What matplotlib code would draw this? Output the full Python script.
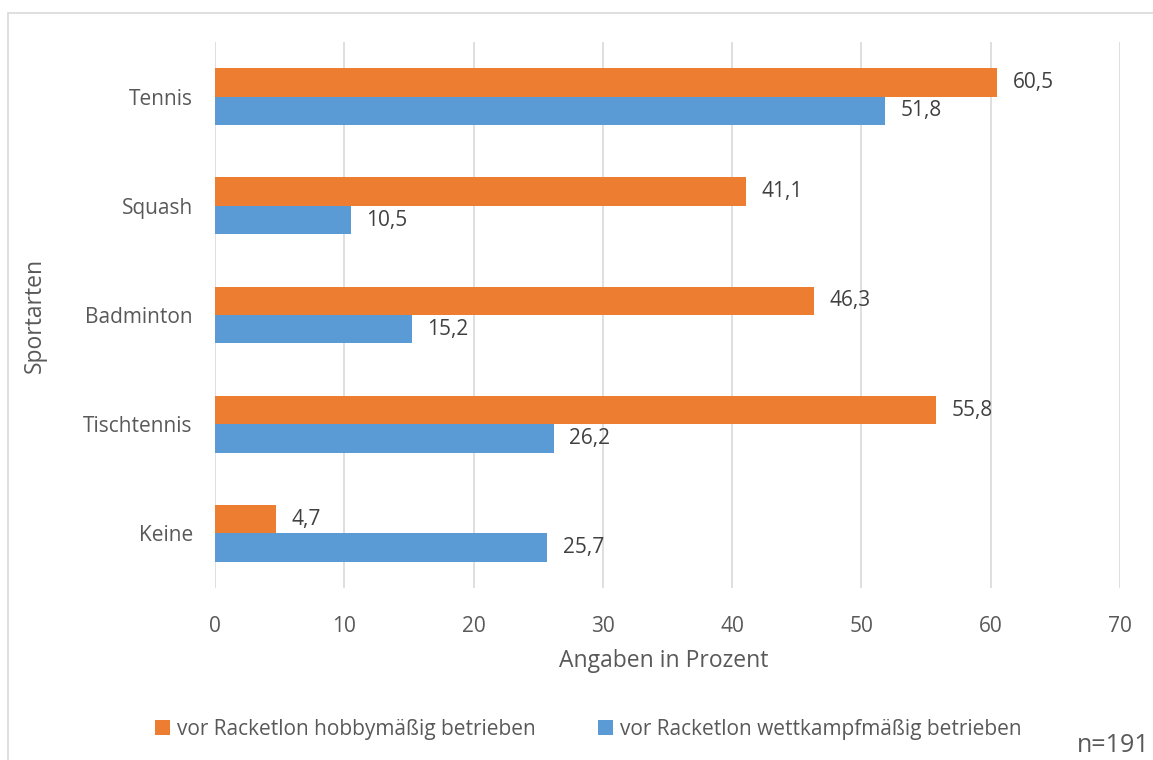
import numpy as np
import matplotlib.pyplot as plt
from matplotlib.patches import Rectangle

# --- Daten ---
sportarten = ['Tennis', 'Squash', 'Badminton', 'Tischtennis', 'Keine']
hobby = [60.5, 41.1, 46.3, 55.8, 4.7]
wettkampf = [51.8, 10.5, 15.2, 26.2, 25.7]
serien = ['vor Racketlon hobbymäßig betrieben', 'vor Racketlon wettkampfmäßig betrieben']
x_ticks = [0, 10, 20, 30, 40, 50, 60, 70]

orange = '#ED7D31'
blau = '#5B9BD5'
grau_text = '#595959'

plt.rcParams['font.family'] = ['Open Sans', 'DejaVu Sans']

fig = plt.figure(figsize=(11.53, 7.6), dpi=100)
ax = fig.add_axes([0.1865, 0.2263, 0.7849, 0.7184])

# Rahmen um das ganze Diagramm
fig.patches.append(Rectangle((8 / 1153, -0.1), 1.2, 1 - 13 / 760 + 0.1,
                             transform=fig.transFigure, fill=False,
                             edgecolor='#D9D9D9', linewidth=1.2))

pos = np.arange(len(sportarten))
h = 0.26
b1 = ax.barh(pos - h / 2, hobby, height=h, color=orange, label=serien[0], zorder=3)
b2 = ax.barh(pos + h / 2, wettkampf, height=h, color=blau, label=serien[1], zorder=3)

for bars, werte in ((b1, hobby), (b2, wettkampf)):
    for bar, w in zip(bars, werte):
        ax.text(w + 1.2, bar.get_y() + bar.get_height() / 2, f'{w:.1f}'.replace('.', ','),
                va='center', ha='left', fontsize=15, color='#404040')

ax.set_xlim(0, 70)
ax.set_ylim(4.5, -0.5)
ax.set_xticks(x_ticks)
ax.set_yticks(pos)
ax.set_yticklabels(sportarten)
ax.tick_params(axis='both', length=0, labelsize=15, labelcolor=grau_text)
ax.tick_params(axis='x', pad=20)
ax.tick_params(axis='y', pad=16)
ax.grid(axis='x', color='#D9D9D9', linewidth=1.2, zorder=0)
for s in ax.spines.values():
    s.set_visible(False)

ax.set_xlabel('Angaben in Prozent', fontsize=16.5, color=grau_text, va='center')
ax.set_ylabel('Sportarten', fontsize=16.5, color=grau_text, va='center')
ax.xaxis.set_label_coords((664 - 215) / 905, (588 - 661) / 546)
ax.yaxis.set_label_coords((35 - 215) / 905, (588 - 315) / 546)

leg = fig.legend(handles=[b1, b2], loc='center', bbox_to_anchor=(0.510, 1 - 729 / 760),
                 ncol=2, frameon=False, fontsize=15, handlelength=0.75, handleheight=0.75,
                 handletextpad=0.3, columnspacing=3.0)
for t in leg.get_texts():
    t.set_color(grau_text)

fig.text(1113 / 1153, 1 - 746 / 760, 'n=191', ha='center', va='center',
         fontsize=18, color=grau_text)

fig.savefig('out.png', dpi=100, facecolor='white')
